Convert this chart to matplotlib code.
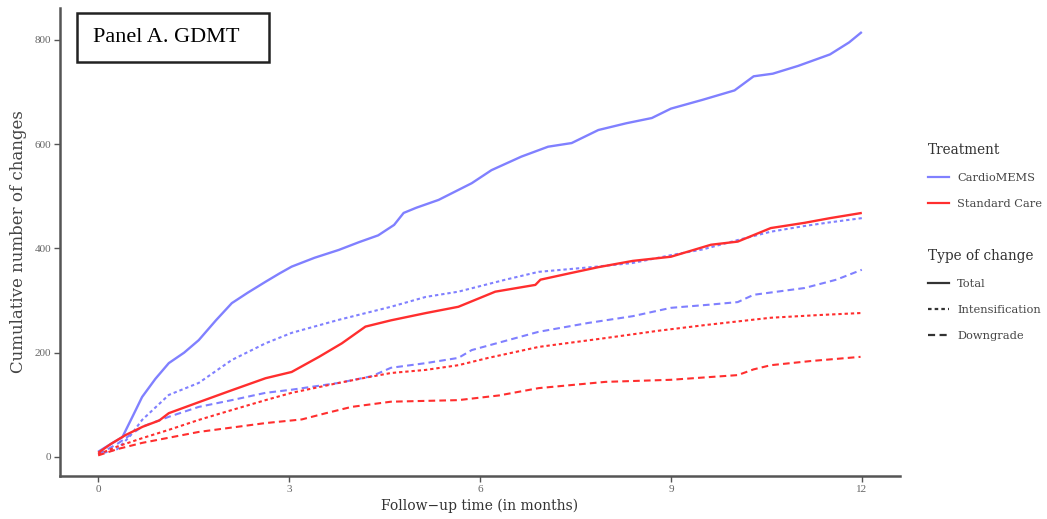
import matplotlib
matplotlib.use("Agg")
import matplotlib.pyplot as plt
from matplotlib.lines import Line2D
from matplotlib.patches import Rectangle

plt.rcParams['font.family'] = ['Liberation Serif', 'DejaVu Serif']
WIDE = ['DejaVu Serif']

# ---- data ----
bt_t = [0, 0.2, 0.38, 0.55, 0.69, 0.9, 1.11, 1.35, 1.58, 1.85, 2.1, 2.35, 2.63, 2.85, 3.04, 3.4, 3.78, 4.1, 4.4,
        4.65, 4.8, 5.0, 5.35, 5.87, 6.18, 6.65, 7.07, 7.44, 7.86, 8.3, 8.7, 9.0, 9.5, 10.0, 10.3, 10.6, 11.0, 11.5, 11.8, 12.0]
bt_y = [10, 25, 38, 80, 115, 150, 180, 200, 224, 262, 295, 315, 336, 352, 365, 382, 397, 412, 425,
        445, 468, 478, 493, 525, 550, 576, 595, 602, 627, 640, 650, 668, 685, 703, 730, 735, 750, 772, 795, 815]

rt_t = [0, 0.2, 0.43, 0.7, 0.96, 1.11, 1.58, 2.1, 2.63, 3.04, 3.47, 3.83, 4.2, 4.6, 5.15, 5.66, 6.24, 6.87, 6.95,
        7.4, 7.86, 8.4, 9.0, 9.63, 10.05, 10.57, 11.1, 11.5, 12.0]
rt_y = [8, 25, 42, 58, 70, 84, 105, 128, 151, 163, 192, 218, 250, 262, 276, 288, 317, 330, 340,
        352, 364, 376, 384, 407, 413, 439, 449, 458, 468]

bi_t = [0, 0.3, 0.5, 0.69, 1.11, 1.58, 2.1, 2.63, 3.04, 3.78, 4.6, 5.15, 5.66, 6.4, 6.92, 7.75, 8.4, 9.0, 9.5,
        10.05, 10.57, 11.1, 11.5, 12.0]
bi_y = [5, 15, 40, 71, 119, 142, 186, 218, 238, 263, 288, 307, 317, 340, 355, 364, 372, 387, 398,
        416, 432, 443, 450, 458]

bd_t = [0, 0.3, 0.69, 1.11, 1.58, 2.1, 2.63, 3.04, 3.78, 4.3, 4.6, 5.15, 5.66, 5.87, 6.92, 7.7, 8.4, 9.0, 9.6,
        10.05, 10.3, 11.1, 11.6, 12.0]
bd_y = [5, 25, 58, 77, 96, 109, 123, 129, 142, 155, 171, 180, 190, 205, 240, 257, 270, 286, 292,
        297, 311, 324, 340, 359]

ri_t = [0, 0.3, 0.69, 1.11, 1.58, 2.1, 2.63, 3.04, 3.78, 4.2, 4.6, 5.15, 5.66, 6.13, 6.92, 7.97, 8.8, 9.54,
        10.57, 11.3, 11.98]
ri_y = [5, 20, 36, 52, 71, 90, 109, 123, 142, 152, 161, 167, 176, 190, 211, 228, 242, 253,
        267, 272, 276]

rd_t = [0, 0.3, 0.69, 1.58, 2.63, 3.2, 3.58, 3.98, 4.6, 5.66, 6.3, 6.92, 7.97, 9.0, 10.05, 10.3, 10.57, 11.2, 11.98]
rd_y = [3, 15, 27, 48, 65, 72, 84, 96, 106, 109, 118, 132, 144, 148, 157, 168, 176, 184, 192]

x_ticks = [0, 3, 6, 9, 12]
y_ticks = [0, 200, 400, 600, 800]
treatments = ["CardioMEMS", "Standard Care"]
change_types = ["Total", "Intensification", "Downgrade"]

# ---- style ----
BLUE = "#8080ff"
RED = "#ff2e2e"
styles = {"Total": "-", "Intensification": (0, (1.6, 1.4)), "Downgrade": (0, (3.2, 2.0))}

W, H = 1047, 519
fig = plt.figure(figsize=(W / 100, H / 100), dpi=100)
ax = fig.add_axes([60 / W, 1 - 476 / H, (900 - 60) / W, (476 - 8) / H])

series = [
    (bt_t, bt_y, BLUE, "Total"),
    (bi_t, bi_y, BLUE, "Intensification"),
    (bd_t, bd_y, BLUE, "Downgrade"),
    (rt_t, rt_y, RED, "Total"),
    (ri_t, ri_y, RED, "Intensification"),
    (rd_t, rd_y, RED, "Downgrade"),
]
for t, y, c, kind in series:
    ax.plot(t, y, color=c, linestyle=styles[kind], lw=1.7 if kind == "Total" else 1.5,
            solid_capstyle="butt")

ax.set_xlim(-0.6, 12.6)
ax.set_ylim(-36.5, 861)
ax.set_xticks(x_ticks)
ax.set_yticks(y_ticks)
ax.tick_params(axis="both", colors="#555555", labelsize=8, length=4.5, width=1, pad=2)
for lab in ax.get_xticklabels() + ax.get_yticklabels():
    lab.set_color("#666666")
for s in ["top", "right"]:
    ax.spines[s].set_visible(False)
for s in ["left", "bottom"]:
    ax.spines[s].set_color("#555555")
    ax.spines[s].set_linewidth(1.8)

ax.set_xlabel("Follow\u2212up time (in months)", fontsize=10, color="#333333",
              labelpad=3, family=WIDE)
ax.set_ylabel("Cumulative number of changes", fontsize=12, color="#444444",
              labelpad=5, family=WIDE)

# panel label box
fig.patches.append(Rectangle((77 / W, 1 - 62 / H), (269 - 77) / W, (62 - 13) / H,
                             transform=fig.transFigure, fill=True, fc="white",
                             ec="#222222", lw=1.8, zorder=5))
fig.text(93 / W, 1 - 37 / H, "Panel A. GDMT", fontsize=16, color="black",
         ha="left", va="center", zorder=6)

# legends
common = dict(loc="upper left", frameon=False, alignment="left",
              prop={"family": WIDE, "size": 8.2},
              title_fontproperties={"family": WIDE, "size": 9.8},
              handlelength=1.8, labelspacing=1.4, handletextpad=0.75, borderpad=0.3)
h1 = [Line2D([], [], color=c, lw=1.6) for c in [BLUE, RED]]
leg1 = fig.legend(h1, treatments, bbox_to_anchor=(919 / W, 1 - 134 / H),
                  title="Treatment", **common)
h2 = [Line2D([], [], color="#333333", lw=1.6, linestyle=styles[k]) for k in change_types]
leg2 = fig.legend(h2, change_types, bbox_to_anchor=(919 / W, 1 - 240 / H),
                  title="Type of change", **common)
for leg in (leg1, leg2):
    for txt in leg.get_texts():
        txt.set_color("#444444")
    leg.get_title().set_color("#333333")

fig.savefig("out.png", dpi=100)
